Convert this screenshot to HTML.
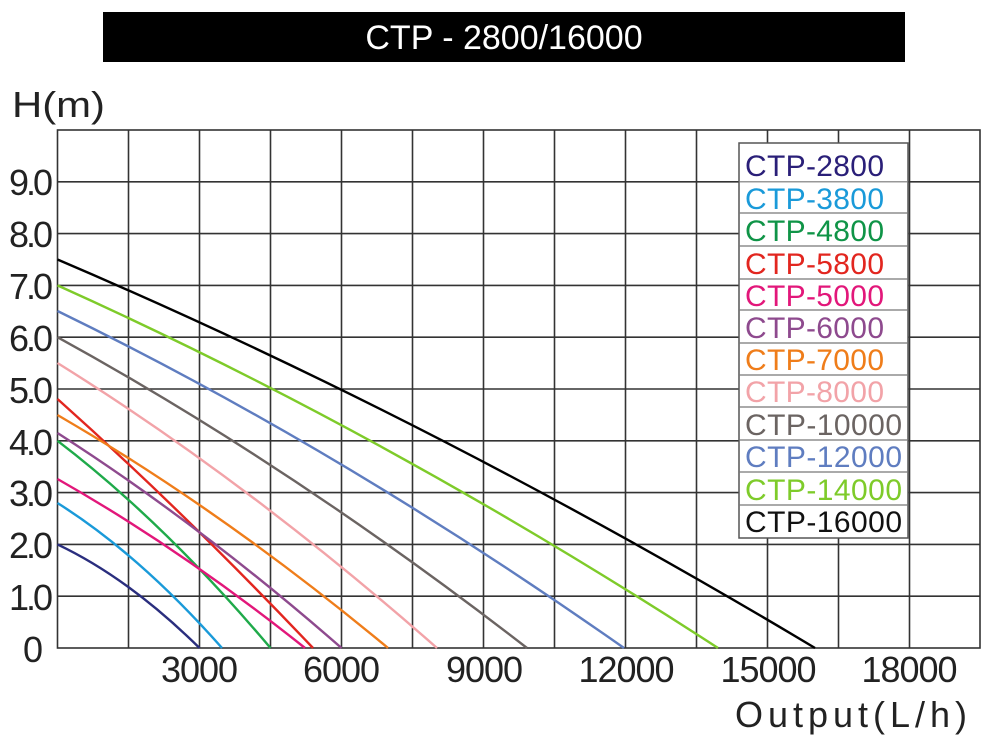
<!DOCTYPE html>
<html><head><meta charset="utf-8"><style>
html,body{margin:0;padding:0;background:#fff;}
svg{display:block;}
text{font-family:"Liberation Sans",sans-serif;}
</style></head><body>
<svg width="1000" height="741" viewBox="0 0 1000 741" xmlns="http://www.w3.org/2000/svg">
<rect x="0" y="0" width="1000" height="741" fill="#fff"/>
<rect x="103" y="12" width="802" height="50" fill="#000"/>
<text x="504" y="49" fill="#fff" font-size="34" text-anchor="middle">CTP - 2800/16000</text>
<text x="12" y="117" font-size="36" fill="#222" textLength="93" lengthAdjust="spacingAndGlyphs">H(m)</text>
<g stroke="#333" stroke-width="1.6" fill="none">
<rect x="57.5" y="130" width="922.5" height="518"/>
<line x1="128.5" y1="130" x2="128.5" y2="648"/>
<line x1="199.5" y1="130" x2="199.5" y2="648"/>
<line x1="270.5" y1="130" x2="270.5" y2="648"/>
<line x1="341.5" y1="130" x2="341.5" y2="648"/>
<line x1="412.5" y1="130" x2="412.5" y2="648"/>
<line x1="483.5" y1="130" x2="483.5" y2="648"/>
<line x1="554.5" y1="130" x2="554.5" y2="648"/>
<line x1="625.5" y1="130" x2="625.5" y2="648"/>
<line x1="696.5" y1="130" x2="696.5" y2="648"/>
<line x1="767.5" y1="130" x2="767.5" y2="648"/>
<line x1="838.5" y1="130" x2="838.5" y2="648"/>
<line x1="909.5" y1="130" x2="909.5" y2="648"/>
<line x1="57.5" y1="596.2" x2="980" y2="596.2"/>
<line x1="57.5" y1="544.4" x2="980" y2="544.4"/>
<line x1="57.5" y1="492.6" x2="980" y2="492.6"/>
<line x1="57.5" y1="440.8" x2="980" y2="440.8"/>
<line x1="57.5" y1="389" x2="980" y2="389"/>
<line x1="57.5" y1="337.2" x2="980" y2="337.2"/>
<line x1="57.5" y1="285.4" x2="980" y2="285.4"/>
<line x1="57.5" y1="233.6" x2="980" y2="233.6"/>
<line x1="57.5" y1="181.8" x2="980" y2="181.8"/>
</g>
<g font-size="36" fill="#222" text-anchor="end" letter-spacing="-3">
<text x="50" y="195">9.0</text><text x="50" y="247">8.0</text><text x="50" y="299">7.0</text>
<text x="50" y="351">6.0</text><text x="50" y="403">5.0</text><text x="50" y="455">4.0</text>
<text x="50" y="506">3.0</text><text x="50" y="558">2.0</text><text x="50" y="610">1.0</text>
<text x="40" y="662">0</text>
</g>
<g font-size="36" fill="#222" text-anchor="middle" letter-spacing="-1">
<text x="199" y="682">3000</text><text x="341" y="682">6000</text><text x="484" y="682">9000</text>
<text x="626" y="682">12000</text><text x="768" y="682">15000</text><text x="909" y="682">18000</text>
</g>
<text x="735" y="727" font-size="36" fill="#222" textLength="232" lengthAdjust="spacing">Output(L/h)</text>
<g fill="none" stroke-width="2.4">
<path d="M57.5,544.4 Q128.5,578 199.5,648" stroke="#2a2e7e"/>
<path d="M57.5,503 Q140,555 222,648" stroke="#1a9ad9"/>
<path d="M57.5,440.8 Q164,522 270.5,648" stroke="#1faa4a"/>
<path d="M57.5,399 Q185,513 313,648" stroke="#e2261f"/>
<path d="M57.5,479 Q181,549 305,648" stroke="#e2177a"/>
<path d="M57.5,433 Q199.5,524 341.5,648" stroke="#8e4a8e"/>
<path d="M57.5,415 Q223,511 388,648" stroke="#ef7d1a"/>
<path d="M57.5,363 Q247,481 437,648" stroke="#f2a3a8"/>
<path d="M57.5,337.2 Q292,466 527,648" stroke="#6b6462"/>
<path d="M57.5,311 Q341,449 624,648" stroke="#5f7dc0"/>
<path d="M57.5,285.4 Q388,434 718,648" stroke="#7ecb2a"/>
<path d="M57.5,259.5 Q436,421 815,648" stroke="#000"/>
</g>
<rect x="739" y="143" width="169" height="395" fill="#fff" stroke="#555" stroke-width="1.5"/>
<g stroke="#777" stroke-width="1.2">
<line x1="739" y1="181.8" x2="908" y2="181.8"/><line x1="739" y1="213" x2="908" y2="213"/>
<line x1="739" y1="246" x2="908" y2="246"/><line x1="739" y1="279" x2="908" y2="279"/>
<line x1="739" y1="310" x2="908" y2="310"/><line x1="739" y1="343" x2="908" y2="343"/>
<line x1="739" y1="375" x2="908" y2="375"/><line x1="739" y1="407" x2="908" y2="407"/>
<line x1="739" y1="440" x2="908" y2="440"/><line x1="739" y1="472" x2="908" y2="472"/>
<line x1="739" y1="505" x2="908" y2="505"/>
</g>
<g font-size="30" lengthAdjust="spacingAndGlyphs">
<text x="745" y="176" fill="#2a1f78" textLength="139">CTP-2800</text>
<text x="745" y="209" fill="#1a9ad9" textLength="139">CTP-3800</text>
<text x="745" y="241" fill="#0f9447" textLength="139">CTP-4800</text>
<text x="745" y="274" fill="#e2261f" textLength="139">CTP-5800</text>
<text x="745" y="306" fill="#e2177a" textLength="139">CTP-5000</text>
<text x="745" y="338" fill="#8e4a8e" textLength="139">CTP-6000</text>
<text x="745" y="370" fill="#ef7d1a" textLength="139">CTP-7000</text>
<text x="745" y="402" fill="#f2a3a8" textLength="139">CTP-8000</text>
<text x="745" y="435" fill="#6b6462" textLength="157">CTP-10000</text>
<text x="745" y="467" fill="#5f7dc0" textLength="157">CTP-12000</text>
<text x="745" y="500" fill="#7ecb2a" textLength="157">CTP-14000</text>
<text x="745" y="532" fill="#111" textLength="157">CTP-16000</text>
</g>
</svg>
</body></html>
